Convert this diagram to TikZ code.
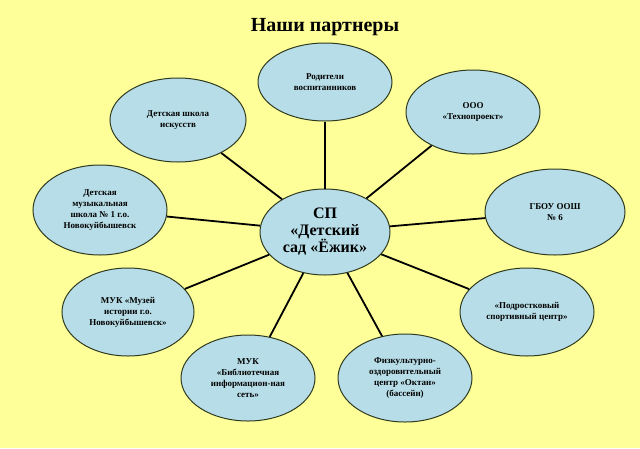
\documentclass[tikz,border=0pt]{standalone}
\usepackage{fontspec}
\setmainfont{Liberation Serif}
\usetikzlibrary{shapes.geometric}
\definecolor{bg}{HTML}{FFFF99}
\definecolor{ell}{HTML}{B7DEE8}
\definecolor{edge}{HTML}{2F3A1F}
\tikzset{
  part/.style={ellipse,draw=edge,line width=1pt,fill=ell,minimum width=134pt,minimum height=86pt,inner sep=0pt,align=center,font=\bfseries\fontsize{9}{11}\selectfont},
  link/.style={line width=1.8pt,black}
}
\begin{document}
\begin{tikzpicture}[x=1pt,y=-1pt]
\fill[bg] (0,0) rectangle (640,448);
\useasboundingbox (0,0) rectangle (640,448);
\node[font=\bfseries\fontsize{20}{22}\selectfont] (title) at (325,27) {Наши партнеры};
\node[part,minimum width=130pt,minimum height=86pt,font=\bfseries\fontsize{16}{17}\selectfont] (c) at (325,232) {СП\\«Детский\\сад «Ёжик»};
\node[part,minimum height=78pt] (p1) at (325,82) {Родители\\воспитанников};
\node[part,minimum width=136pt,minimum height=84pt] (p2) at (178,120) {Детская школа\\искусств};
\node[part,minimum height=84pt] (p3) at (473,112) {ООО\\«Технопроект»};
\node[part,minimum width=140pt] (p4) at (555,212) {ГБОУ ООШ\\№ 6};
\node[part,minimum height=90pt] (p5) at (100,210) {Детская\\музыкальная\\школа № 1 г.о.\\Новокуйбышевск};
\node[part,minimum width=132pt,minimum height=88pt] (p6) at (128,312) {МУК «Музей\\истории г.о.\\Новокуйбышевск»};
\node[part,minimum height=88pt] (p7) at (527,312) {«Подростковый\\спортивный центр»};
\node[part] (p8) at (248,378) {МУК\\«Библиотечная\\информацион-ная\\сеть»};
\node[part,minimum height=88pt] (p9) at (405,378) {Физкультурно-\\оздоровительный\\центр «Октан»\\(бассейн)};
\foreach \p in {p1,p2,p3,p4,p5,p6,p7,p8,p9}
  \draw[link] (c) -- (\p);
\end{tikzpicture}
\end{document}
